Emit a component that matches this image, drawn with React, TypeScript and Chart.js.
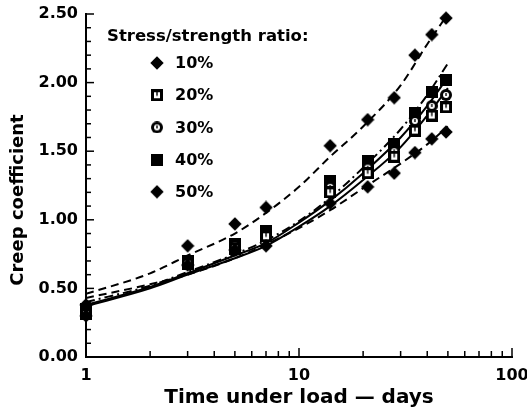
import React, { useEffect, useRef } from 'react';
import { Chart, registerables } from 'chart.js';

Chart.register(...registerables);

// ---- data ----
const days = [1, 3, 5, 7, 14, 21, 28, 35, 42, 49];
const ratioLabels = ['10%', '20%', '30%', '40%', '50%'];
const creep10 = [0.30, 0.67, 0.78, 0.81, 1.12, 1.24, 1.34, 1.49, 1.59, 1.64];
const creep20 = [0.31, 0.68, 0.79, 0.88, 1.20, 1.34, 1.46, 1.65, 1.76, 1.82];
const creep30 = [0.33, 0.69, 0.81, 0.90, 1.24, 1.38, 1.50, 1.72, 1.83, 1.91];
const creep40 = [0.35, 0.70, 0.82, 0.92, 1.28, 1.43, 1.55, 1.78, 1.93, 2.02];
const creep50 = [0.38, 0.81, 0.97, 1.09, 1.54, 1.73, 1.89, 2.20, 2.35, 2.47];

const fitDays = [1, 2, 3, 5, 7, 10, 14, 20, 30, 40, 50];
const fit10 = [0.43, 0.53, 0.60, 0.72, 0.82, 0.94, 1.07, 1.23, 1.41, 1.55, 1.68];
const fit20 = [0.37, 0.50, 0.60, 0.72, 0.81, 0.95, 1.10, 1.29, 1.53, 1.76, 1.96];
const fit30 = [0.38, 0.51, 0.61, 0.74, 0.83, 0.98, 1.14, 1.34, 1.60, 1.83, 2.04];
const fit40 = [0.40, 0.52, 0.62, 0.75, 0.85, 0.99, 1.16, 1.38, 1.66, 1.91, 2.14];
const fit50 = [0.46, 0.61, 0.74, 0.90, 1.05, 1.24, 1.46, 1.68, 1.98, 2.28, 2.50];

const xTickValues = [1, 2, 3, 4, 5, 6, 7, 8, 9, 10, 20, 30, 40, 50, 60, 70, 80, 90, 100];
const xTickLabels = ['1', '10', '100'];
const legendTitle = 'Stress/strength ratio:';
const yTitle = 'Creep coefficient';
const xTitle = 'Time under load \u2014 days';

const FONT = '"DejaVu Sans", sans-serif';

function makeMarker(kind: string): HTMLCanvasElement {
  const c = document.createElement('canvas');
  const size = kind === 'diamond' ? 14 : 12;
  c.width = size;
  c.height = size;
  const g = c.getContext('2d')!;
  g.fillStyle = '#000';
  g.strokeStyle = '#000';
  const h = size / 2;
  if (kind === 'diamond') {
    g.beginPath();
    g.moveTo(h, 0.3);
    g.lineTo(size - 0.3, h);
    g.lineTo(h, size - 0.3);
    g.lineTo(0.3, h);
    g.closePath();
    g.fill();
  } else if (kind === 'square') {
    g.fillRect(0, 0, size, size);
  } else if (kind === 'squareU') {
    g.fillRect(0, 0, size, size);
    g.fillStyle = '#fff';
    g.fillRect(3, 3, size - 6, size - 6);
    g.fillStyle = '#000';
    g.fillRect(5.3, 3, 1.4, 3.6);
  } else if (kind === 'circleU') {
    g.beginPath();
    g.arc(h, h, h, 0, Math.PI * 2);
    g.fill();
    g.fillStyle = '#fff';
    g.beginPath();
    g.arc(h, h, h - 3, 0, Math.PI * 2);
    g.fill();
    g.fillStyle = '#000';
    g.fillRect(5.3, 4, 1.4, 3);
  }
  return c;
}

const innerTicksPlugin = {
  id: 'innerTicks',
  afterDraw(chart: any) {
    const { ctx, chartArea, scales } = chart;
    const xs = scales.x;
    const ys = scales.y;
    ctx.save();
    ctx.strokeStyle = '#000';
    ctx.lineWidth = 1.5;
    xs.ticks.forEach((t: any) => {
      const px = xs.getPixelForValue(t.value);
      const major = Math.abs(Math.log10(t.value) - Math.round(Math.log10(t.value))) < 1e-9;
      const len = major ? 9 : 6;
      ctx.beginPath();
      ctx.moveTo(px, chartArea.bottom);
      ctx.lineTo(px, chartArea.bottom - len);
      ctx.stroke();
    });
    ys.ticks.forEach((t: any) => {
      const py = ys.getPixelForValue(t.value);
      const major = Math.abs(t.value * 2 - Math.round(t.value * 2)) < 1e-6;
      const len = major ? 8 : 5;
      ctx.beginPath();
      ctx.moveTo(chartArea.left, py);
      ctx.lineTo(chartArea.left + len, py);
      ctx.stroke();
    });
    ctx.restore();
  },
};

const textPlugin = {
  id: 'insideLegend',
  afterDraw(chart: any) {
    const { ctx, chartArea } = chart;
    ctx.save();
    ctx.fillStyle = '#000';
    // y-axis title
    ctx.save();
    ctx.translate(18, 200);
    ctx.rotate(-Math.PI / 2);
    ctx.font = `bold 18px ${FONT}`;
    ctx.textAlign = 'center';
    ctx.textBaseline = 'middle';
    ctx.fillText(yTitle, 0, 0);
    ctx.restore();
    // legend
    ctx.font = `bold 16.5px ${FONT}`;
    ctx.textAlign = 'left';
    ctx.textBaseline = 'alphabetic';
    ctx.fillText(legendTitle, chartArea.left + 21, 41);
    ctx.font = `bold 16px ${FONT}`;
    const markers = chart.data.datasets.filter((d: any) => d.isMarker);
    markers.forEach((d: any, i: number) => {
      const cy = 63 + i * 32.2;
      const img = d.pointStyle as HTMLCanvasElement;
      ctx.drawImage(img, 157 - img.width / 2, cy - img.height / 2);
      ctx.textBaseline = 'middle';
      ctx.fillText(d.label, 175, cy + 1);
    });
    ctx.restore();
  },
};

export default function App() {
  const ref = useRef<HTMLCanvasElement | null>(null);
  useEffect(() => {
    if (!ref.current) return;
    const markerStyles = [makeMarker('diamond'), makeMarker('squareU'), makeMarker('circleU'), makeMarker('square'), makeMarker('diamond')];
    const seriesData = [creep10, creep20, creep30, creep40, creep50];
    const fitData = [fit10, fit20, fit30, fit40, fit50];
    const fitDash = [[8, 5], [], [], [9, 4, 2, 4], [8, 5]];
    const markerSets = seriesData.map((arr, i) => ({
      type: 'scatter' as const,
      label: ratioLabels[i],
      isMarker: true,
      data: days.map((d, j) => ({ x: d, y: arr[j] })),
      pointStyle: markerStyles[i],
      pointRadius: 6,
      showLine: false,
      clip: false,
      order: 0,
    }));
    const fitSets = fitData.map((arr, i) => ({
      type: 'line' as const,
      label: 'fit ' + ratioLabels[i],
      data: fitDays.map((d, j) => ({ x: d, y: arr[j] })),
      borderColor: '#000',
      borderWidth: 2,
      borderDash: fitDash[i],
      pointRadius: 0,
      fill: false,
      cubicInterpolationMode: 'monotone' as const,
      order: 1,
    }));
    const chart = new Chart(ref.current, {
      type: 'scatter',
      data: { datasets: [...markerSets, ...fitSets] as any },
      options: {
        animation: false,
        responsive: false,
        devicePixelRatio: 1,
        layout: { padding: { left: 0, right: 15, top: 14, bottom: 0 } },
        plugins: { legend: { display: false }, tooltip: { enabled: false } },
        scales: {
          x: {
            type: 'logarithmic',
            min: 1,
            max: 100,
            afterFit: (s: any) => { s.height = 58; s.paddingLeft = 0; s.paddingRight = 0; },
            afterBuildTicks: (s: any) => { s.ticks = xTickValues.map((v) => ({ value: v })); },
            grid: { display: false, drawTicks: false },
            border: { display: true, color: '#000', width: 2 },
            ticks: {
              autoSkip: false,
              maxRotation: 0,
              padding: 9,
              color: '#000',
              font: { family: FONT, size: 16, weight: 'bold' },
              callback: (v: any) => {
                const s = String(v);
                return xTickLabels.includes(s) ? s : '';
              },
            },
            title: {
              display: true,
              text: xTitle,
              color: '#000',
              font: { family: FONT, size: 20, weight: 'bold' },
              padding: { top: 0, bottom: 5 },
            },
          },
          y: {
            type: 'linear',
            min: 0,
            max: 2.5,
            afterFit: (s: any) => { s.width = 86; s.paddingTop = 0; s.paddingBottom = 0; },
            grid: { display: false, drawTicks: false },
            border: { display: true, color: '#000', width: 2 },
            ticks: {
              stepSize: 0.1,
              autoSkip: false,
              padding: 8,
              color: '#000',
              font: { family: FONT, size: 16, weight: 'bold' },
              callback: (v: any) => {
                const n = Number(v);
                return Math.abs(n * 2 - Math.round(n * 2)) < 1e-6 ? n.toFixed(2) : '';
              },
            },
          },
        },
      },
      plugins: [innerTicksPlugin, textPlugin],
    });
    return () => chart.destroy();
  }, []);
  return (
    <div style={{ position: 'absolute', left: 0, top: 0, width: 527, height: 415, background: '#fff' }}>
      <canvas ref={ref} width={527} height={415} />
    </div>
  );
}
